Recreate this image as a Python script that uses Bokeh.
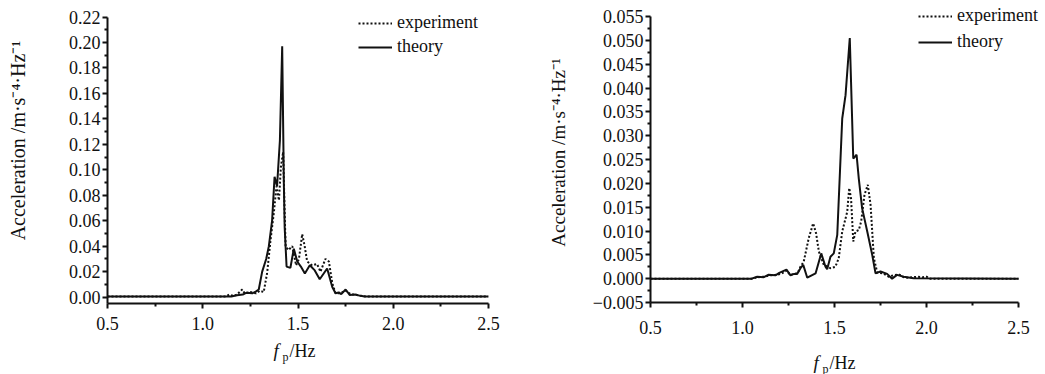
from math import pi

from bokeh.embed import file_html
from bokeh.layouts import column, row
from bokeh.models import (FixedTicker, Label, Legend, LegendItem,
                          PrintfTickFormatter, Range1d)
from bokeh.plotting import figure
from bokeh.resources import INLINE

# ---- data: left panel ----
left_theory_f = [0.5, 1.15, 1.18, 1.21, 1.23, 1.26, 1.28, 1.294, 1.312, 1.333,
                 1.347, 1.364, 1.377, 1.39, 1.405, 1.417, 1.426, 1.43, 1.44,
                 1.46, 1.478, 1.496, 1.515, 1.536, 1.562, 1.588, 1.614, 1.635,
                 1.653, 1.68, 1.697, 1.714, 1.727, 1.75, 1.772, 1.80, 1.828,
                 1.85, 2.5]
left_theory_a = [0.0005, 0.0005, 0.0015, 0.002, 0.0035, 0.003, 0.0045, 0.006,
                 0.020, 0.030, 0.040, 0.060, 0.0945, 0.087, 0.123, 0.197,
                 0.087, 0.055, 0.024, 0.023, 0.038, 0.028, 0.024, 0.0186,
                 0.025, 0.021, 0.014, 0.0186, 0.0225, 0.008, 0.003, 0.0037,
                 0.0024, 0.006, 0.0016, 0.002, 0.001, 0.0005, 0.0005]

left_exp_f = [0.5, 1.12, 1.14, 1.16, 1.18, 1.207, 1.22, 1.25, 1.28, 1.30, 1.32,
              1.338, 1.356, 1.373, 1.387, 1.40, 1.41, 1.422, 1.43, 1.435, 1.45,
              1.47, 1.49, 1.505, 1.522, 1.535, 1.548, 1.574, 1.60, 1.618,
              1.644, 1.662, 1.68, 1.697, 1.72, 1.75, 1.78, 1.80, 1.83, 1.86,
              2.5]
left_exp_a = [0.0005, 0.0005, 0.002, 0.001, 0.002, 0.006, 0.003, 0.004, 0.003,
              0.005, 0.004, 0.019, 0.045, 0.066, 0.087, 0.076, 0.102, 0.114,
              0.066, 0.040, 0.037, 0.040, 0.025, 0.030, 0.0495, 0.040, 0.028,
              0.025, 0.026, 0.020, 0.030, 0.028, 0.011, 0.003, 0.003, 0.005,
              0.002, 0.002, 0.001, 0.0005, 0.0005]

# ---- data: right panel ----
right_theory_f = [0.5, 1.05, 1.08, 1.116, 1.14, 1.179, 1.2, 1.239, 1.261, 1.28,
                  1.297, 1.315, 1.33, 1.352, 1.397, 1.428, 1.451, 1.46, 1.478,
                  1.496, 1.515, 1.542, 1.56, 1.583, 1.602, 1.62, 1.632, 1.65,
                  1.678, 1.705, 1.723, 1.75, 1.786, 1.813, 1.84, 1.876, 1.93,
                  2.5]
right_theory_a = [0.0, 0.0, 0.0004, 0.0003, 0.0008, 0.0007, 0.0012, 0.0019,
                  0.0007, 0.001, 0.001, 0.0022, 0.0029, 0.0002, 0.0011, 0.0053,
                  0.0025, 0.002, 0.0046, 0.0053, 0.0092, 0.0336, 0.0385,
                  0.0505, 0.0252, 0.026, 0.021, 0.0148, 0.0099, 0.005, 0.0011,
                  0.0015, 0.001, 0.0, 0.0008, 0.0004, 0.0001, 0.0]

right_exp_f = [0.5, 1.05, 1.08, 1.116, 1.15, 1.179, 1.21, 1.239, 1.26, 1.28,
               1.30, 1.315, 1.333, 1.36, 1.384, 1.40, 1.415, 1.442, 1.478,
               1.505, 1.523, 1.542, 1.569, 1.58, 1.59, 1.602, 1.614, 1.632,
               1.645, 1.663, 1.681, 1.696, 1.714, 1.732, 1.75, 1.768, 1.795,
               1.82, 1.85, 1.876, 1.90, 1.95, 1.98, 2.0, 2.02, 2.5]
right_exp_a = [0.0, 0.0, 0.0003, 0.0004, 0.0007, 0.0008, 0.001, 0.0017, 0.0008,
               0.001, 0.0012, 0.0025, 0.0036, 0.0085, 0.0116, 0.0095, 0.0057,
               0.0029, 0.0022, 0.0025, 0.0043, 0.0099, 0.014, 0.019, 0.0168,
               0.0078, 0.0099, 0.0102, 0.012, 0.0176, 0.0197, 0.0155, 0.0043,
               0.0013, 0.0012, 0.001, 0.0004, 0.0007, 0.0009, 0.0003, 0.0002,
               0.0004, 0.0003, 0.0004, 0.0, 0.0]

x_ticks = [0.5, 1.0, 1.5, 2.0, 2.5]
x_minor = [0.75, 1.25, 1.75, 2.25]
left_y_ticks = [round(0.02 * i, 2) for i in range(12)]
left_y_minor = [round(0.01 + 0.02 * i, 2) for i in range(11)]
right_y_ticks = [round(-0.005 + 0.005 * i, 3) for i in range(13)]
right_y_minor = [round(-0.0025 + 0.005 * i, 4) for i in range(12)]

FONT = "Liberation Serif"
INK = "#111111"
YLABEL = "Acceleration /m·s⁻⁴·Hz⁻¹"
SERIES = ["experiment", "theory"]


def blank(width, height):
    """A bare canvas (no axes at all) used to hold axis titles."""
    b = figure(width=width, height=height, output_backend="svg",
               toolbar_location=None, x_range=Range1d(0, 1),
               y_range=Range1d(0, 1), min_border=0,
               x_axis_location=None, y_axis_location=None)
    b.grid.visible = False
    b.outline_line_color = None
    b.background_fill_color = "white"
    b.border_fill_color = "white"
    return b


def ytitle(width, height, cx, cy, size):
    # rotated title; its frame lines up with the neighbouring plot's frame,
    # so cy is measured up from that frame's bottom edge
    b = blank(width, height)
    b.add_layout(Label(x=cx, y=cy, x_units="screen", y_units="screen",
                       text=YLABEL, angle=pi / 2, text_align="center",
                       text_baseline="middle", text_font=FONT,
                       text_font_size=size, text_color=INK))
    return b


def xtitle(width, height, fx, fy):
    # italic f with subscript p, then /Hz
    b = blank(width, height)
    b.add_layout(Label(x=fx, y=fy, x_units="screen", y_units="screen",
                       text="f", text_font=FONT, text_font_style="italic",
                       text_font_size="19px", text_baseline="alphabetic",
                       text_color=INK))
    b.add_layout(Label(x=fx + 9, y=fy - 6, x_units="screen", y_units="screen",
                       text="p", text_font=FONT, text_font_size="12px",
                       text_baseline="alphabetic", text_color=INK))
    b.add_layout(Label(x=fx + 16, y=fy, x_units="screen", y_units="screen",
                       text="/Hz", text_font=FONT, text_font_size="18px",
                       text_baseline="alphabetic", text_color=INK))
    return b


def make_panel(width, height, borders, x_end, y_range, y_bounds, y_ticks,
               y_minor, y_fmt, theory, exp, legend_loc, legend_spacing,
               x_standoff):
    left, right, top, bottom = borders
    p = figure(width=width, height=height, output_backend="svg",
               toolbar_location=None,
               x_range=Range1d(0.5, x_end), y_range=Range1d(*y_range),
               min_border_left=left, min_border_right=right,
               min_border_top=top, min_border_bottom=bottom)
    p.outline_line_color = None
    p.grid.visible = False
    p.background_fill_color = "white"
    p.border_fill_color = "white"

    p.xaxis.ticker = FixedTicker(ticks=x_ticks, minor_ticks=x_minor)
    p.yaxis.ticker = FixedTicker(ticks=y_ticks, minor_ticks=y_minor)
    p.xaxis.formatter = PrintfTickFormatter(format="%.1f")
    p.yaxis.formatter = PrintfTickFormatter(format=y_fmt)
    p.xaxis.bounds = (0.5, 2.5)
    p.yaxis.bounds = y_bounds
    if y_ticks[0] < 0:
        p.yaxis.major_label_overrides = {y_ticks[0]: "\u2212" + (y_fmt % -y_ticks[0])}

    for ax in (p.xaxis[0], p.yaxis[0]):
        ax.axis_line_width = 2
        ax.axis_line_color = INK
        ax.major_tick_line_width = 2
        ax.minor_tick_line_width = 2
        ax.major_tick_line_color = INK
        ax.minor_tick_line_color = INK
        ax.major_tick_out = 5
        ax.major_tick_in = 0
        ax.minor_tick_out = 3
        ax.minor_tick_in = 0
        ax.major_label_text_font = FONT
        ax.major_label_text_font_size = "18px"
        ax.major_label_text_color = INK
    p.xaxis.major_label_standoff = x_standoff
    p.yaxis.major_label_standoff = 2

    r_exp = p.line(exp[0], exp[1], line_color=INK, line_width=2,
                   line_dash="2 2")
    r_th = p.line(theory[0], theory[1], line_color=INK, line_width=2)

    legend = Legend(items=[LegendItem(label=SERIES[0], renderers=[r_exp]),
                           LegendItem(label=SERIES[1], renderers=[r_th])],
                    location=legend_loc, orientation="vertical",
                    glyph_width=34, glyph_height=20, label_height=20,
                    label_standoff=5, spacing=legend_spacing, padding=0,
                    margin=0, border_line_color=None,
                    background_fill_alpha=0,
                    label_text_font=FONT, label_text_font_size="18px",
                    label_text_color=INK)
    p.add_layout(legend)
    return p


# left block: 530 px wide, frame x 107..488, y 2..303
p1 = make_panel(494, 336, (71, 42, 2, 33), 2.5, (-0.005, 0.2314),
                (-0.005, 0.22), left_y_ticks, left_y_minor, "%.2f",
                (left_theory_f, left_theory_a), (left_exp_f, left_exp_a),
                legend_loc=(251, 246), legend_spacing=3, x_standoff=8)
left_block = column(row(ytitle(36, 336, 17.5, 163, "20px"), p1),
                    xtitle(530, 38, 273, 24))

# right block: 515 px wide, axis x 650..1018 (frame runs on to 1043)
p2 = make_panel(475, 341, (80, 2, 2, 39), 2.5 + 25 / 184, (-0.005, 0.05794),
                (-0.005, 0.055), right_y_ticks, right_y_minor, "%.3f",
                (right_theory_f, right_theory_a), (right_exp_f, right_exp_a),
                legend_loc=(268, 250), legend_spacing=5, x_standoff=13)
right_block = column(row(ytitle(40, 341, 28, 150, "19px"), p2),
                     xtitle(515, 33, 283, 12))

layout = row(left_block, right_block)
open("out.html", "w").write(file_html(layout, INLINE))
